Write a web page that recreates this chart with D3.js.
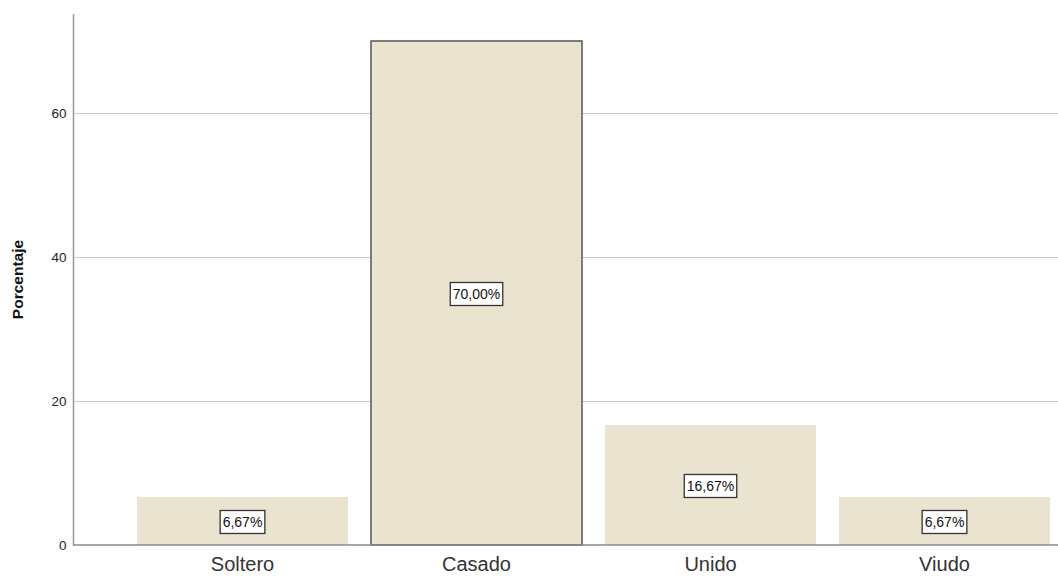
<!DOCTYPE html>
<html>
<head>
<meta charset="utf-8">
<script src="https://cdn.jsdelivr.net/npm/d3@7"></script>
<style>
  body { margin: 0; background: #fff; }
  svg text { font-family: "Liberation Sans", Arial, sans-serif; }
</style>
</head>
<body>
<div id="chart"></div>
<script>
const categories = ["Soltero", "Casado", "Unido", "Viudo"];
const values = [6.67, 70.00, 16.67, 6.67];
const labels = ["6,67%", "70,00%", "16,67%", "6,67%"];
const yTicks = [0, 20, 40, 60];

const width = 1058,
    height = 576,
    margin = ({ top: 14, right: 0, bottom: 31, left: 73 });

const svg = d3.select("#chart")
    .append("svg")
    .attr("width", width)
    .attr("height", height);

let x = d3.scaleBand()
    .domain(categories)
    .range([125.5, 1061.5])
    .paddingInner(23 / 234)
    .paddingOuter(11.5 / 234);

let y = d3.scaleLinear()
    .domain([0, 73.75])
    .range([height - margin.bottom, margin.top]);

// gridlines
svg.append("g")
    .selectAll("line")
    .data(yTicks.filter(d => d > 0))
    .join("line")
    .attr("x1", margin.left)
    .attr("x2", width)
    .attr("y1", d => Math.round(y(d)) + 0.5)
    .attr("y2", d => Math.round(y(d)) + 0.5)
    .attr("stroke", "#c8c8c8")
    .attr("stroke-width", 1);

// bars
svg.append("g")
    .selectAll("rect")
    .data(values)
    .join("rect")
    .attr("x", (d, i) => x(categories[i]))
    .attr("y", d => y(d))
    .attr("width", x.bandwidth())
    .attr("height", d => y(0) - y(d))
    .attr("fill", "#eae3cf")
    .attr("stroke", (d, i) => i === 1 ? "#555" : "none")
    .attr("stroke-width", 1.5);

// y axis
const yAxis = svg.append("g")
    .attr("transform", `translate(${margin.left + 0.5},0)`)
    .call(d3.axisLeft(y).tickValues(yTicks).tickSize(0).tickPadding(7));
yAxis.select(".domain").remove();
yAxis.selectAll("text")
    .attr("font-size", 13.5)
    .attr("fill", "#222");

svg.append("line")
    .attr("x1", margin.left + 0.5).attr("x2", margin.left + 0.5)
    .attr("y1", margin.top).attr("y2", y(0))
    .attr("stroke", "#999").attr("stroke-width", 1.5);

// x axis
const xAxis = svg.append("g")
    .attr("transform", `translate(0,${y(0)})`)
    .call(d3.axisBottom(x).tickSize(0).tickPadding(12));
xAxis.select(".domain").remove();
xAxis.selectAll("text")
    .attr("font-size", 20)
    .attr("fill", "#333");

svg.append("line")
    .attr("x1", margin.left).attr("x2", width)
    .attr("y1", y(0)).attr("y2", y(0))
    .attr("stroke", "#888").attr("stroke-width", 1.5);

// value labels
const lab = svg.append("g")
    .selectAll("g")
    .data(values)
    .join("g")
    .attr("transform", (d, i) => `translate(${x(categories[i]) + x.bandwidth() / 2},${(y(d) + y(0)) / 2 + 1})`);

lab.append("text")
    .attr("text-anchor", "middle")
    .attr("dy", "0.36em")
    .attr("font-size", 14)
    .attr("fill", "#111")
    .text((d, i) => labels[i]);

lab.each(function() {
    const g = d3.select(this);
    const w = g.select("text").node().getComputedTextLength();
    g.insert("rect", "text")
        .attr("x", -w / 2 - 2.5)
        .attr("y", -11.5)
        .attr("width", w + 5)
        .attr("height", 23)
        .attr("fill", "#fff")
        .attr("stroke", "#333")
        .attr("stroke-width", 1.3);
});

// y title
svg.append("text")
    .attr("transform", `translate(23,${(margin.top + y(0)) / 2}) rotate(-90)`)
    .attr("text-anchor", "middle")
    .attr("font-size", 15.5)
    .attr("font-weight", "bold")
    .attr("fill", "#111")
    .text("Porcentaje");
</script>
</body>
</html>
